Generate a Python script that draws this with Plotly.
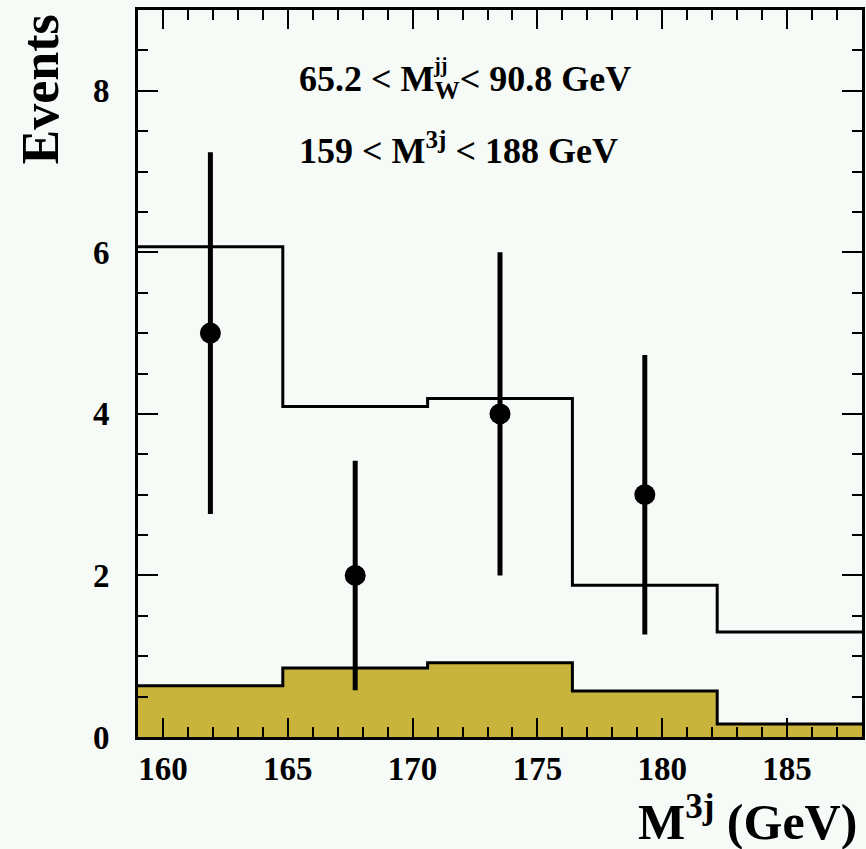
import plotly.graph_objects as go

# Data
bin_edges = [159.0, 164.8, 170.6, 176.4, 182.2, 188.0]
mc_total = [6.07, 4.09, 4.19, 1.88, 1.30]
background = [0.635, 0.855, 0.92, 0.57, 0.16]
data_x = [161.9, 167.7, 173.5, 179.3]
data_y = [5, 2, 4, 3]
err_plus = [2.24, 1.42, 2.0, 1.73]
err_minus = [2.24, 1.42, 2.0, 1.73]

FONT = "Liberation Serif"
BG = "#f7fbf7"

fig = go.Figure()

fig.add_trace(go.Scatter(
    x=bin_edges, y=background + [background[-1]],
    mode="lines", line=dict(shape="hv", color="black", width=3),
    fill="tozeroy", fillcolor="#c8b43c", hoverinfo="skip", showlegend=False))

fig.add_trace(go.Scatter(
    x=bin_edges, y=mc_total + [mc_total[-1]],
    mode="lines", line=dict(shape="hv", color="black", width=3),
    hoverinfo="skip", showlegend=False))

fig.add_trace(go.Scatter(
    x=data_x, y=data_y, mode="markers",
    marker=dict(size=21, color="black"),
    error_y=dict(type="data", symmetric=False, array=err_plus, arrayminus=err_minus,
                 color="black", thickness=5, width=0),
    showlegend=False))

axis_common = dict(
    showline=True, linecolor="black", linewidth=3, mirror="ticks",
    ticks="inside", tickcolor="black", tickwidth=2, showgrid=False, zeroline=False,
    tickfont=dict(family=FONT, size=33, color="black", weight="bold"),
)

fig.update_xaxes(range=[159, 188], dtick=5, tick0=160, ticklen=19,
                 minor=dict(dtick=1, tick0=160, ticklen=10, ticks="inside", tickcolor="black", tickwidth=2),
                 ticklabelstandoff=0, **axis_common)
fig.update_yaxes(range=[0, 9], dtick=2, tick0=0, ticklen=20,
                 minor=dict(dtick=0.5, tick0=0, ticklen=10, ticks="inside", tickcolor="black", tickwidth=2),
                 ticklabelstandoff=19, **axis_common)

pw, ph = 866 - 138 - 1, 849 - 10 - 112

def px(xp):
    return (xp - 138) / pw

def py(yp):
    return 1 - (yp - 10) / ph

annots = [
    dict(text="<b>Events</b>", x=px(40), y=py(89), textangle=-90, size=52,
         xanchor="center", yanchor="middle"),
    dict(text="<b>M<sup>3j</sup> (GeV)</b>", x=px(862), y=py(818), size=50,
         xanchor="right", yanchor="middle"),
    dict(text="<b>65.2 < M<sub>W</sub>< 90.8 GeV</b>", x=px(298), y=py(81), size=36,
         xanchor="left", yanchor="middle"),
    dict(text="<b>jj</b>", x=px(432), y=py(66), size=20,
         xanchor="left", yanchor="middle"),
    dict(text="<b>159 < M<sup>3j</sup> < 188 GeV</b>", x=px(298), y=py(149), size=36,
         xanchor="left", yanchor="middle"),
]
for a in annots:
    fig.add_annotation(xref="paper", yref="paper", showarrow=False,
                       text=a["text"], x=a["x"], y=a["y"], textangle=a.get("textangle", 0),
                       xanchor=a["xanchor"], yanchor=a["yanchor"],
                       font=dict(family=FONT, color="black", size=a["size"]))

fig.update_layout(
    width=866, height=849,
    margin=dict(l=138, r=1, t=10, b=112),
    paper_bgcolor=BG, plot_bgcolor=BG,
    showlegend=False,
)

fig.write_html("out.html", config={"displayModeBar": False},
               post_script="document.body.style.margin='0px';document.body.style.overflow='hidden';document.body.style.background='" + BG + "';")
